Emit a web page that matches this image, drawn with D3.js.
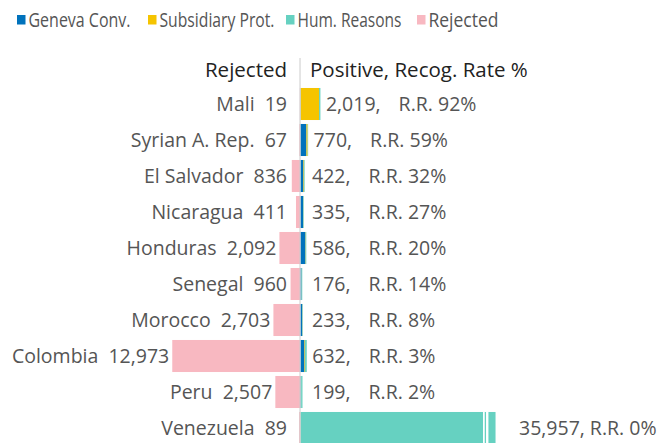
<!DOCTYPE html>
<html>
<head>
<meta charset="utf-8">
<script src="https://cdn.jsdelivr.net/npm/d3@7"></script>
<style>
  body { margin: 0; background: #fff; }
  text { font-family: "Open Sans", Lato, sans-serif; }
</style>
</head>
<body>
<div id="chart"></div>
<script>
// data
var countries = ["Mali", "Syrian A. Rep.", "El Salvador", "Nicaragua", "Honduras", "Senegal", "Morocco", "Colombia", "Peru", "Venezuela"];
var rejected = [19, 67, 836, 411, 2092, 960, 2703, 12973, 2507, 89];
var geneva = [20, 600, 300, 270, 500, 100, 180, 400, 40, 20];
var subsidiary = [1860, 120, 60, 20, 30, 10, 20, 60, 20, 10];
var humReasons = [139, 50, 62, 45, 56, 66, 33, 172, 139, 35927];
var positive = [2019, 770, 422, 335, 586, 176, 233, 632, 199, 35957];
var recogRate = [92, 59, 32, 27, 20, 14, 8, 3, 2, 0];

var seriesNames = ["Geneva Conv.", "Subsidiary Prot.", "Hum. Reasons", "Rejected"];
var colors = ["#0072bc", "#f5c400", "#66d1c1", "#f8b8c1"];

var W = 667, H = 443;
var cap = 19800; // bars longer than this get a break

var svg = d3.select("#chart").append("svg")
    .attr("width", W).attr("height", H);

var x = d3.scaleLinear().domain([-13000, 20000]).range([172, 497]);
var y = d3.scaleBand().domain(countries).range([86, 446])
    .paddingInner(0.11).paddingOuter(0.055);

var fmt = d3.format(",");

// legend
var legX = [17, 148, 286, 417];
var legW = [102, 115, 104, 70];
var leg = svg.selectAll(".leg").data(seriesNames).enter()
    .append("g").attr("class", "leg")
    .attr("transform", function(d, i) { return "translate(" + legX[i] + ",15)"; });
leg.append("rect").attr("width", 8.5).attr("height", 9.5)
    .style("fill", function(d, i) { return colors[i]; });
leg.append("text").attr("x", 11.5).attr("y", 5).attr("dy", "0.36em")
    .attr("textLength", function(d, i) { return legW[i]; })
    .attr("lengthAdjust", "spacingAndGlyphs")
    .style("font-size", "19.5px").style("fill", "#555").text(function(d) { return d; });

// headers
svg.append("text").attr("x", 287).attr("y", 70).attr("dy", "0.35em")
    .attr("text-anchor", "end").style("font-size", "20.5px").style("fill", "#222")
    .text("Rejected");
svg.append("text").attr("x", 310).attr("y", 70).attr("dy", "0.35em")
    .style("font-size", "20.5px").style("fill", "#222")
    .text("Positive, Recog. Rate %");

// rows
var rows = countries.map(function(c, i) {
  return {name: c, rej: rejected[i], gc: geneva[i], sp: subsidiary[i], hr: humReasons[i],
          pos: positive[i], rr: recogRate[i]};
});

var g = svg.selectAll(".row").data(rows).enter().append("g").attr("class", "row");

// rejected bars go left
g.append("rect")
    .attr("x", function(d) { return x(-d.rej); })
    .attr("y", function(d) { return y(d.name); })
    .attr("width", function(d) { return x(0) - x(-d.rej); })
    .attr("height", y.bandwidth())
    .style("fill", colors[3]);

// positive stack goes right
g.each(function(d) {
  var parts = [d.gc, d.sp, d.hr];
  var start = 0;
  var sel = d3.select(this);
  parts.forEach(function(v, k) {
    var a = Math.min(start, cap), b2 = Math.min(start + v, cap);
    start += v;
    if (b2 <= a) return;
    sel.append("rect")
        .attr("x", x(a) + 0.5)
        .attr("y", y(d.name))
        .attr("width", x(b2) - x(a))
        .attr("height", y.bandwidth())
        .style("fill", colors[k]);
  });
  if (start > cap) {
    // break marks
    [-12, -9].forEach(function(off, j) {
      sel.append("rect")
          .attr("x", x(cap) + off)
          .attr("y", y(d.name))
          .attr("width", j == 0 ? 1.7 : 2.4)
          .attr("height", y.bandwidth())
          .style("fill", "#fff");
    });
  }
});

// centre line
svg.append("line").attr("x1", x(0)).attr("x2", x(0)).attr("y1", 58).attr("y2", H)
    .style("stroke", "#ccc").style("stroke-width", 1);

// left labels
g.append("text")
    .attr("x", function(d) { return Math.min(x(-d.rej) - 3, 287); })
    .attr("y", function(d) { return y(d.name) + y.bandwidth() / 2; })
    .attr("dy", "0.35em")
    .attr("text-anchor", "end")
    .style("white-space", "pre")
    .style("font-size", "19.5px").style("fill", "#555")
    .text(function(d) { return d.name + "  " + fmt(d.rej); });

// right labels
var rl = g.append("text")
    .attr("x", function(d) {
      var end = x(Math.min(d.pos, cap));
      if (d.pos > cap) return end + 24;
      return Math.max(end, 306) + 6;
    })
    .attr("y", function(d) { return y(d.name) + y.bandwidth() / 2; })
    .attr("dy", "0.35em")
    .style("white-space", "pre")
    .style("font-size", "19.5px").style("fill", "#555");
rl.append("tspan").text(function(d) { return fmt(d.pos) + ","; });
rl.append("tspan")
    .attr("dx", function(d) { return d.pos > cap ? 5 : 18; })
    .text(function(d) { return "R.R. " + d.rr + "%"; });
</script>
</body>
</html>
